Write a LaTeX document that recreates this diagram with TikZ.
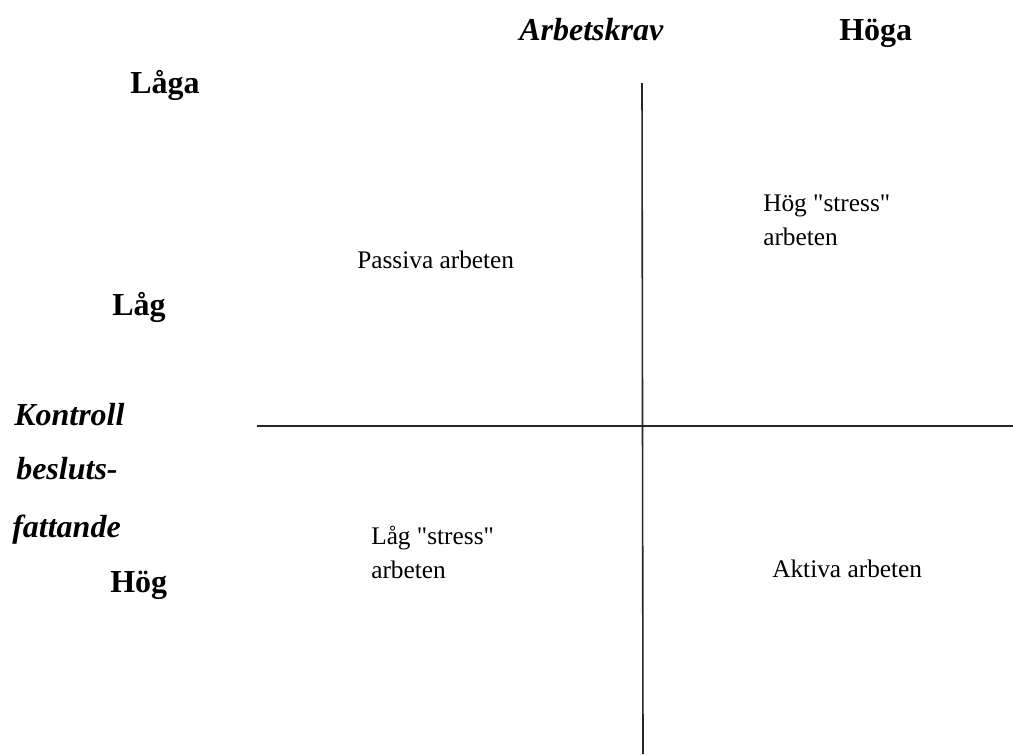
\documentclass[tikz,border=0pt]{standalone}
\usepackage{fontspec}
\setmainfont{Liberation Serif}
\newfontfamily\quadfont[Ligatures=TeXOff]{Liberation Serif}
\tikzset{
    axislabel/.style = {inner sep=0pt, anchor=base west, font=\fontsize{24}{28}\selectfont\bfseries\itshape},
    levellabel/.style = {inner sep=0pt, anchor=base west, font=\fontsize{24}{28}\selectfont\bfseries},
    quadrant/.style = {inner sep=0pt, anchor=base west, align=left, font=\quadfont\fontsize{19}{25}\selectfont},
    axisline/.style = {line width=1.2pt, black!85}
}
\begin{document}
\begin{tikzpicture}[x=0.75pt, y=-0.75pt]
\useasboundingbox (0,0) rectangle (1013,754);
% axes
\coordinate (top) at (642,83);
\coordinate (bottom) at (643,754);
\coordinate (left) at (257,426);
\coordinate (right) at (1013,426);
\draw [axisline] (top) -- (bottom);
\draw [axisline] (left) -- (right);
% axis titles and levels
\node (demand) [axislabel] at (519,40) {Arbetskrav};
\node (high) [levellabel] at (839,40) {Höga};
\node (low) [levellabel] at (130,93) {Låga};
\node (ctrllow) [levellabel] at (112,315) {Låg};
\node (control) [axislabel] at (14,425) {Kontroll};
\node (decision) [axislabel] at (16,479) {besluts-};
\node (making) [axislabel] at (12,537) {fattande};
\node (ctrlhigh) [levellabel] at (110,592) {Hög};
% quadrants
\node (passive) [quadrant] at (357,268) {Passiva arbeten};
\node (highstrain) [quadrant] at (763,245) {Hög "stress"\\arbeten};
\node (lowstrain) [quadrant] at (371,578) {Låg "stress"\\arbeten};
\node (active) [quadrant] at (772,577) {Aktiva arbeten};
\end{tikzpicture}
\end{document}
